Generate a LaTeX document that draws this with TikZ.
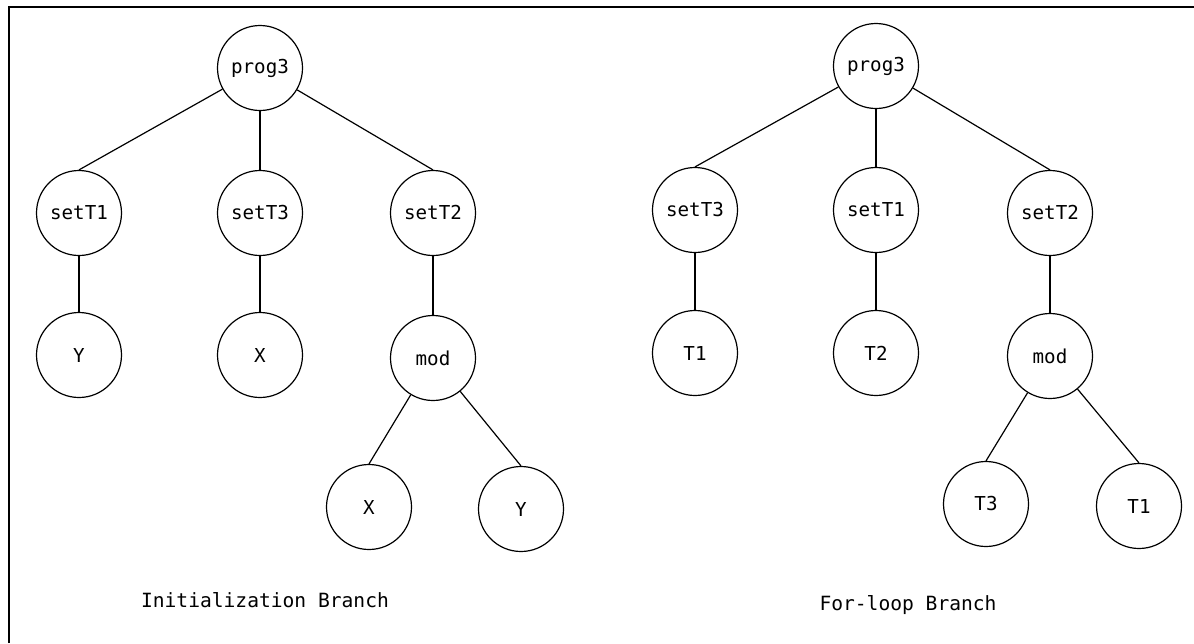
\documentclass[tikz,border=0pt]{standalone}
\usepackage{fontspec}
\newfontfamily\monofnt{DejaVu Sans Mono}
\begin{document}
\begin{tikzpicture}[x=0.5pt,y=-0.5pt,
  tnode/.style={circle,draw,line width=0.6pt,minimum size=42.5pt,inner sep=0pt,font=\monofnt\fontsize{9.6}{11}\selectfont},
  lbl/.style={font=\monofnt\fontsize{9.8}{12}\selectfont},
  edge/.style={line width=0.6pt}]
\useasboundingbox (0,0) rectangle (1194,643);
\coordinate (bl) at (9,643);
\coordinate (tl) at (9,7);
\coordinate (tr) at (1194,7);
\draw[line width=1pt] (bl) -- (tl) -- (tr);
% left tree
\node[tnode] (Lp) at (260,68) {prog3};
\node[tnode] (Ls1) at (79,213) {setT1};
\node[tnode] (Ls3) at (260,213) {setT3};
\node[tnode] (Ls2) at (433,213) {setT2};
\node[tnode] (LY) at (79,355) {Y};
\node[tnode] (LX) at (260,355) {X};
\node[tnode] (Lm) at (433,358) {mod};
\node[tnode] (LX2) at (369,507) {X};
\node[tnode] (LY2) at (521,509) {Y};
\draw[edge] (Lp) -- (Ls1.north);
\draw[edge] (Lp) -- (Ls3.north);
\draw[edge] (Lp) -- (Ls2.north);
\draw[edge] (Ls1) -- (LY);
\draw[edge] (Ls3) -- (LX);
\draw[edge] (Ls2) -- (Lm);
\draw[edge] (Lm) -- (LX2.north);
\draw[edge] (Lm) -- (LY2.north);
\node[lbl] (Llab) at (265,600) {Initialization Branch};
% right tree
\node[tnode] (Rp) at (876,66) {prog3};
\node[tnode] (Rs3) at (695,210) {setT3};
\node[tnode] (Rs1) at (876,210) {setT1};
\node[tnode] (Rs2) at (1050,213) {setT2};
\node[tnode] (RT1) at (695,353) {T1};
\node[tnode] (RT2) at (876,353) {T2};
\node[tnode] (Rm) at (1050,356) {mod};
\node[tnode] (RT3) at (986,504) {T3};
\node[tnode] (RT1b) at (1139,506) {T1};
\draw[edge] (Rp) -- (Rs3.north);
\draw[edge] (Rp) -- (Rs1.north);
\draw[edge] (Rp) -- (Rs2.north);
\draw[edge] (Rs3) -- (RT1);
\draw[edge] (Rs1) -- (RT2);
\draw[edge] (Rs2) -- (Rm);
\draw[edge] (Rm) -- (RT3.north);
\draw[edge] (Rm) -- (RT1b.north);
\node[lbl] (Rlab) at (908,605) {For-loop Branch};
\end{tikzpicture}
\end{document}
